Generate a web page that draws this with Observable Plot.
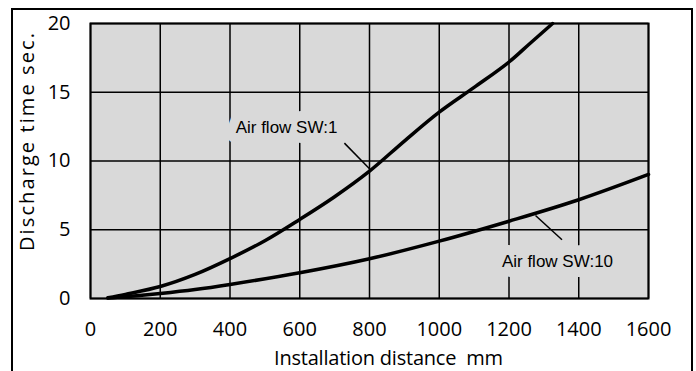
<!DOCTYPE html>
<html>
<head>
<meta charset="utf-8">
<script src="https://cdn.jsdelivr.net/npm/d3@7"></script>
<script src="https://cdn.jsdelivr.net/npm/@observablehq/plot@0.6"></script>
<style>
  html, body { margin: 0; padding: 0; background: #fff; }
  #wrap { position: relative; width: 696px; height: 371px; overflow: hidden; background: #fff; }
  #border { position: absolute; left: 11px; top: 8px; width: 682px; height: 420px; box-sizing: border-box; border: 2px solid #000; pointer-events: none; }
  svg { display: block; }
</style>
</head>
<body>
<div id="wrap"><div id="chart"></div><div id="border"></div></div>
<script>
// Series: Air flow SW:1
const sw1X = [50, 100, 200, 300, 400, 500, 600, 700, 800, 900, 1000, 1100, 1200, 1260, 1325];
const sw1Y = [0.05, 0.3, 0.87, 1.75, 2.9, 4.2, 5.75, 7.4, 9.26, 11.45, 13.55, 15.35, 17.2, 18.55, 20];
// Series: Air flow SW:10
const sw10X = [50, 100, 200, 300, 400, 600, 800, 1000, 1200, 1400, 1600];
const sw10Y = [0.03, 0.12, 0.36, 0.65, 1.02, 1.87, 2.89, 4.17, 5.62, 7.18, 9.02];
// Ticks
const xTicks = [0, 200, 400, 600, 800, 1000, 1200, 1400, 1600];
const yTicks = [0, 5, 10, 15, 20];
// Annotations
const labelText = ["Air flow SW:1", "Air flow SW:10"];
const labelX = [562, 1339];
const labelY = [12.44, 2.71];
const leaderX1 = [728, 1276];
const leaderY1 = [11.3, 6.04];
const leaderX2 = [800, 1352];
const leaderY2 = [9.43, 4.27];
const xTitle = "Installation distance  mm";
const yTitle = "Discharge time sec.";

const sw1 = sw1X.map((x, i) => ({x, y: sw1Y[i]}));
const sw10 = sw10X.map((x, i) => ({x, y: sw10Y[i]}));
const labels = labelText.map((t, i) => ({t, x: labelX[i], y: labelY[i]}));
const leaders = leaderX1.map((x1, i) => ({x1, y1: leaderY1[i], x2: leaderX2[i], y2: leaderY2[i]}));

const tickFont = "'Open Sans', sans-serif";

const chart = Plot.plot({
  width: 696,
  height: 371,
  marginLeft: 90,
  marginRight: 48,
  marginTop: 23,
  marginBottom: 73,
  style: { fontFamily: tickFont, fontSize: "20px", color: "#000", background: "#fff" },
  x: { domain: [0, 1600], ticks: xTicks, tickSize: 0, tickPadding: 23, label: null, tickFormat: d => String(d) },
  y: { domain: [0, 20], ticks: yTicks, tickSize: 0, tickPadding: 20, label: null, tickFormat: d => String(d) },
  marks: [
    Plot.frame({ fill: "#d9d9d9" }),
    Plot.gridX(xTicks, { stroke: "#000", strokeOpacity: 1, strokeWidth: 1.5 }),
    Plot.gridY(yTicks, { stroke: "#000", strokeOpacity: 1, strokeWidth: 1.5 }),
    Plot.frame({ stroke: "#000", strokeWidth: 2 }),
    Plot.line(sw10, { x: "x", y: "y", curve: "catmull-rom", stroke: "#000", strokeWidth: 3.5 }),
    Plot.line(sw1, { x: "x", y: "y", curve: "catmull-rom", stroke: "#000", strokeWidth: 3.5 }),
    Plot.text(labels, { x: "x", y: "y", text: "t", fontFamily: "'Liberation Sans', Arial, sans-serif", fontSize: 17, fill: "#000", stroke: "#d9d9d9", strokeWidth: 20, strokeLinejoin: "round" }),
    Plot.link(leaders, { x1: "x1", y1: "y1", x2: "x2", y2: "y2", stroke: "#000", strokeWidth: 1.5 }),
    Plot.text([xTitle], { frameAnchor: "bottom", dx: 19, dy: 60.5, text: d => d, fontSize: 20, fill: "#000", textAnchor: "middle", lineAnchor: "middle" }),
    Plot.text([yTitle], { frameAnchor: "left", dx: -63, dy: -19, rotate: -90, text: d => d, fontSize: 20, fill: "#000", textAnchor: "middle", lineAnchor: "middle" })
  ]
});
document.getElementById("chart").appendChild(chart);
// stretch titles to the reference's spacing
d3.select(chart).selectAll("text").each(function () {
  const t = this.textContent;
  if (t === xTitle) { this.setAttribute("textLength", 229); this.setAttribute("lengthAdjust", "spacing"); }
  if (t === yTitle) { this.setAttribute("textLength", 218); this.setAttribute("lengthAdjust", "spacing"); }
});
</script>
</body>
</html>
